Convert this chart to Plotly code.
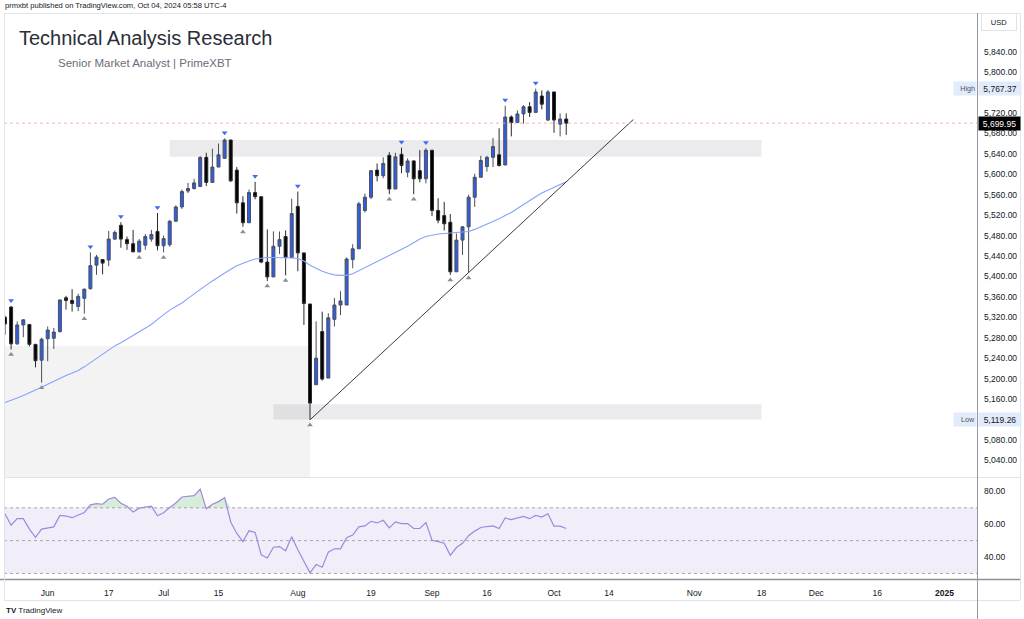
import numpy as np
import plotly.graph_objects as go

# ---------------- data ----------------
HOLIDAYS = ["2024-05-27", "2024-06-19", "2024-07-04", "2024-09-02",
            "2024-11-28", "2024-12-25", "2025-01-01"]
ORIGIN = "2024-05-22"

dates = [
    "2024-05-22", "2024-05-23", "2024-05-24", "2024-05-28", "2024-05-29", "2024-05-30", "2024-05-31",
    "2024-06-03", "2024-06-04", "2024-06-05", "2024-06-06", "2024-06-07", "2024-06-10", "2024-06-11",
    "2024-06-12", "2024-06-13", "2024-06-14", "2024-06-17", "2024-06-18", "2024-06-20", "2024-06-21",
    "2024-06-24", "2024-06-25", "2024-06-26", "2024-06-27", "2024-06-28",
    "2024-07-01", "2024-07-02", "2024-07-03", "2024-07-05", "2024-07-08", "2024-07-09", "2024-07-10",
    "2024-07-11", "2024-07-12", "2024-07-15", "2024-07-16", "2024-07-17", "2024-07-18", "2024-07-19",
    "2024-07-22", "2024-07-23", "2024-07-24", "2024-07-25", "2024-07-26", "2024-07-29", "2024-07-30",
    "2024-07-31",
    "2024-08-01", "2024-08-02", "2024-08-05", "2024-08-06", "2024-08-07", "2024-08-08", "2024-08-09",
    "2024-08-12", "2024-08-13", "2024-08-14", "2024-08-15", "2024-08-16", "2024-08-19", "2024-08-20",
    "2024-08-21", "2024-08-22", "2024-08-23", "2024-08-26", "2024-08-27", "2024-08-28", "2024-08-29",
    "2024-08-30",
    "2024-09-03", "2024-09-04", "2024-09-05", "2024-09-06", "2024-09-09", "2024-09-10", "2024-09-11",
    "2024-09-12", "2024-09-13", "2024-09-16", "2024-09-17", "2024-09-18", "2024-09-19", "2024-09-20",
    "2024-09-23", "2024-09-24", "2024-09-25", "2024-09-26", "2024-09-27", "2024-09-30",
    "2024-10-01", "2024-10-02", "2024-10-03",
]

open_ = [5320, 5340, 5268, 5305, 5306, 5267, 5236,
         5278, 5279, 5292, 5358, 5353, 5341, 5357, 5376, 5422, 5433, 5432, 5473, 5500, 5472,
         5464, 5448, 5461, 5473, 5488,
         5460, 5462, 5508, 5536, 5567, 5572, 5576, 5633, 5584, 5614, 5631, 5667, 5608, 5544,
         5505, 5564, 5556, 5428, 5399, 5459, 5478, 5437,
         5537, 5446, 5346, 5188, 5292, 5201, 5316, 5344, 5344, 5433, 5454, 5529, 5555, 5608,
         5597, 5637, 5571, 5639, 5604, 5626, 5607, 5591,
         5647, 5529, 5519, 5506, 5409, 5471, 5497, 5555, 5594, 5615, 5633, 5638, 5618, 5712,
         5701, 5718, 5732, 5721, 5753, 5706,
         5761, 5698, 5708]
high = [5323, 5342, 5312, 5316, 5306, 5268, 5280,
        5302, 5299, 5354, 5362, 5375, 5366, 5376, 5447, 5442, 5434, 5489, 5490, 5506, 5478,
        5491, 5473, 5483, 5491, 5524,
        5480, 5510, 5539, 5570, 5583, 5591, 5635, 5642, 5650, 5660, 5670, 5667, 5614, 5557,
        5570, 5585, 5556, 5492, 5488, 5488, 5490, 5552,
        5566, 5446, 5346, 5312, 5331, 5328, 5358, 5371, 5437, 5463, 5546, 5562, 5608, 5621,
        5633, 5643, 5642, 5652, 5631, 5627, 5647, 5651,
        5647, 5553, 5546, 5522, 5484, 5498, 5560, 5601, 5636, 5636, 5671, 5690, 5734, 5715,
        5725, 5735, 5741, 5767.37, 5764, 5765,
        5761, 5719, 5719]
low = [5286, 5257, 5266, 5281, 5263, 5222, 5192,
       5234, 5258, 5290, 5335, 5331, 5332, 5327, 5374, 5403, 5404, 5420, 5471, 5456, 5452,
       5448, 5447, 5452, 5468, 5451,
       5447, 5458, 5507, 5532, 5563, 5570, 5576, 5577, 5584, 5614, 5631, 5585, 5523, 5497,
       5505, 5551, 5426, 5391, 5399, 5444, 5402, 5437,
       5410, 5305, 5119.26, 5188, 5196, 5201, 5302, 5324, 5344, 5416, 5454, 5525, 5551, 5586,
       5592, 5561, 5571, 5602, 5594, 5561, 5584, 5582,
       5518, 5504, 5490, 5403, 5409, 5442, 5407, 5536, 5594, 5605, 5614, 5615, 5618, 5674,
       5701, 5699, 5712, 5721, 5727, 5704,
       5681, 5674, 5677]
close = [5307, 5268, 5305, 5315, 5267, 5235, 5277,
         5295, 5291, 5354, 5353, 5347, 5361, 5375, 5421, 5438, 5426, 5473, 5486, 5473, 5464,
         5448, 5469, 5478, 5482, 5460,
         5474, 5508, 5536, 5566, 5572, 5583, 5633, 5584, 5614, 5638, 5667, 5587, 5544, 5505,
         5564, 5556, 5428, 5399, 5459, 5472, 5437, 5523,
         5446, 5347, 5152, 5240, 5199, 5319, 5344, 5352, 5434, 5454, 5542, 5555, 5607, 5597,
         5621, 5571, 5634, 5617, 5626, 5591, 5591, 5647,
         5529, 5510, 5503, 5409, 5471, 5497, 5555, 5594, 5627, 5633, 5654, 5617, 5712, 5701,
         5718, 5732, 5721, 5761, 5737, 5761,
         5706, 5708, 5699.95]

ma = [5153, 5157, 5162, 5167, 5172, 5177, 5183,
      5189, 5195, 5200, 5206, 5211, 5216, 5223, 5231, 5240, 5248, 5256, 5264, 5270, 5277,
      5284, 5291, 5298, 5306, 5316,
      5325, 5334, 5341, 5348, 5357, 5366, 5375, 5383, 5391, 5399, 5407, 5414, 5421, 5426,
      5430, 5434, 5436, 5437, 5437, 5437, 5437, 5436,
      5435, 5430, 5422, 5416, 5410, 5406, 5403, 5402, 5402, 5405, 5411, 5417, 5423, 5429,
      5435, 5441, 5446, 5452, 5459, 5466, 5473, 5478,
      5481, 5483, 5484, 5485, 5486, 5487, 5488, 5492, 5497, 5502, 5507, 5513, 5519, 5525,
      5533, 5541, 5549, 5556, 5563, 5569,
      5575, 5580, 5585]

rsi = [66.4, 59.4, 63.4, 63.4, 57, 52, 57,
       57.8, 58.4, 65.4, 65, 64, 65.4, 67.2, 71.8, 72.6, 72.2, 75.4, 76.4, 72.8, 71,
       67.4, 69.8, 70.6, 71, 65.2,
       67, 70.2, 73, 76.6, 77, 77.4, 81.4, 69.4, 72.2, 73.8, 76.2, 61.4, 54.4, 49.4,
       56, 55, 41.4, 39.4, 46, 46.4, 43.8, 52.4,
       44.4, 37.4, 30.4, 35.4, 33.8, 43, 45, 45, 51.8, 53.4, 58.4, 59, 61.8, 60.8,
       62.4, 57.8, 61.4, 60.4, 60.4, 57.4, 57.4, 61,
       50.2, 49.4, 48.4, 41, 45.8, 48.4, 53, 55.8, 58, 58.6, 59, 57.4, 63.8, 62.8,
       63.8, 64.8, 63.4, 65.4, 64.4, 66.4,
       58.8, 58.8, 57.4]

pivot_high_dates = ["2024-05-23", "2024-06-12", "2024-06-20", "2024-06-28", "2024-07-16",
                    "2024-07-23", "2024-08-01", "2024-08-26", "2024-08-30", "2024-09-19",
                    "2024-09-26"]
pivot_low_dates = ["2024-05-23", "2024-05-31", "2024-06-11", "2024-06-25", "2024-07-01",
                   "2024-07-19", "2024-07-25", "2024-07-30", "2024-08-05", "2024-08-22",
                   "2024-08-28", "2024-09-06", "2024-09-11"]

# zones: start date, end date, low price, high price
zone_start = ["2024-07-02", "2024-07-26"]
zone_end = ["2024-11-18", "2024-11-18"]
zone_lo = [5634, 5120]
zone_hi = [5667, 5150]
left_zone_end = "2024-08-05"
left_zone_top = 5264

trend_dates = ["2024-08-05", "2024-10-18"]
trend_prices = [5119.26, 5707]

last_price = 5699.95
high_label = 5767.37
low_label = 5119.26

# price scale labels (those hidden behind the High/Low/USD boxes are left out)
price_ticks = [5040, 5080, 5160, 5200, 5240, 5280, 5320, 5360, 5400, 5440, 5480, 5520,
               5560, 5600, 5640, 5680, 5720, 5800, 5840]
rsi_ticks = [40, 60, 80]

tick_dates = ["2024-06-03", "2024-06-17", "2024-07-01", "2024-07-15", "2024-08-01",
              "2024-08-19", "2024-09-03", "2024-09-16", "2024-10-01", "2024-10-14",
              "2024-11-01", "2024-11-18", "2024-12-02", "2024-12-16", "2025-01-02"]
tick_labels = ["Jun", "17", "Jul", "15", "Aug", "19", "Sep", "16", "Oct", "14",
               "Nov", "18", "Dec", "16", "<b>2025</b>"]

PRICE_RANGE = [5007.4, 5915.5]
RSI_RANGE = [26.6, 88.2]
X_RANGE = [-0.164, 159.34]


def pos(d):
    return np.busday_count(ORIGIN, np.array(d, dtype="datetime64[D]"), holidays=HOLIDAYS)


x = pos(dates).astype(float)
high_a = np.array(high, dtype=float)
low_a = np.array(low, dtype=float)
date_index = {d: i for i, d in enumerate(dates)}
ph_i = [date_index[d] for d in pivot_high_dates]
pl_i = [date_index[d] for d in pivot_low_dates]

FONT = "Liberation Sans, Arial, sans-serif"
W, H = 1024, 619
ML, MR, MT, MB = 4, 47, 13, 40


def px(X):
    return (X - ML) / (W - ML - MR)


def py(Y):
    return (H - MB - Y) / (H - MT - MB)


fig = go.Figure()

# --- price pane ---
fig.add_trace(go.Scatter(x=x, y=ma, mode="lines", line=dict(color="#86a2fb", width=1.1),
                         hoverinfo="skip", showlegend=False, xaxis="x", yaxis="y"))
fig.add_trace(go.Candlestick(
    x=x, open=open_, high=high, low=low, close=close,
    increasing=dict(fillcolor="#2f5ee6", line=dict(color="#4b4f5c", width=1)),
    decreasing=dict(fillcolor="#000000", line=dict(color="#2a2a2a", width=1)),
    whiskerwidth=0, hoverinfo="skip", showlegend=False, xaxis="x", yaxis="y"))
fig.add_trace(go.Scatter(x=x[ph_i], y=high_a[ph_i] + 11, mode="markers",
                         marker=dict(symbol="triangle-down", size=5, color="#3d6af0"),
                         hoverinfo="skip", showlegend=False, xaxis="x", yaxis="y"))
fig.add_trace(go.Scatter(x=x[pl_i], y=low_a[pl_i] - 10, mode="markers",
                         marker=dict(symbol="triangle-up", size=5, color="#8a8d96"),
                         hoverinfo="skip", showlegend=False, xaxis="x", yaxis="y"))

# --- RSI pane ---
rsi_a = np.array(rsi, dtype=float)
fig.add_trace(go.Scatter(x=x, y=np.full(len(x), 70.0), mode="lines", line=dict(width=0),
                         hoverinfo="skip", showlegend=False, xaxis="x", yaxis="y2"))
fig.add_trace(go.Scatter(x=x, y=np.maximum(rsi_a, 70.0), mode="lines", line=dict(width=0),
                         fill="tonexty", fillcolor="rgba(76,175,80,0.22)",
                         hoverinfo="skip", showlegend=False, xaxis="x", yaxis="y2"))
fig.add_trace(go.Scatter(x=x, y=rsi_a, mode="lines", line=dict(color="#9c89de", width=1.2),
                         hoverinfo="skip", showlegend=False, xaxis="x", yaxis="y2"))

shapes = []
# zones
for s, e, lo, hi in zip(zone_start, zone_end, zone_lo, zone_hi):
    shapes.append(dict(type="rect", xref="x", yref="y", x0=float(pos(s)), x1=float(pos(e)),
                       y0=lo, y1=hi, fillcolor="rgba(120,123,134,0.15)", line=dict(width=0),
                       layer="below"))
shapes.append(dict(type="rect", xref="x", yref="y", x0=X_RANGE[0], x1=float(pos(left_zone_end)),
                   y0=PRICE_RANGE[0], y1=left_zone_top, fillcolor="rgba(120,123,134,0.09)",
                   line=dict(width=0), layer="below"))
# trend line
shapes.append(dict(type="line", xref="x", yref="y", x0=float(pos(trend_dates[0])),
                   x1=float(pos(trend_dates[1])), y0=trend_prices[0], y1=trend_prices[1],
                   line=dict(color="#3a3a3a", width=1)))
# last price line
shapes.append(dict(type="line", xref="x domain", yref="y", x0=0, x1=1, y0=last_price,
                   y1=last_price, line=dict(color="#f7b3b9", width=1, dash="dot")))
# RSI band and levels
shapes.append(dict(type="rect", xref="x domain", yref="y2", x0=0, x1=1, y0=30, y1=70,
                   fillcolor="rgba(126,87,194,0.10)", line=dict(width=0), layer="below"))
for lv in (70, 50, 30):
    shapes.append(dict(type="line", xref="x domain", yref="y2", x0=0, x1=1, y0=lv, y1=lv,
                       line=dict(color="#a3a6af", width=1, dash="dot"), layer="below"))


# frame lines (pixel based, paper coords)
def hline(Y, X0, X1, color, width=1):
    shapes.append(dict(type="line", xref="paper", yref="paper", x0=px(X0), x1=px(X1),
                       y0=py(Y), y1=py(Y), line=dict(color=color, width=width)))


def vline(X, Y0, Y1, color, width=1):
    shapes.append(dict(type="line", xref="paper", yref="paper", x0=px(X), x1=px(X),
                       y0=py(Y0), y1=py(Y1), line=dict(color=color, width=width)))


hline(13.5, 4, 1020, "#e0e3eb")
hline(477.5, 4, 1020, "#e0e3eb")
hline(579.5, 0, 1020, "#8c8f99", 1.5)
hline(600.5, 4, 1020, "#e0e3eb")
vline(4.5, 13, 600, "#e0e3eb")
vline(1020.5, 13, 600, "#e0e3eb")
vline(977.5, 13, 619, "#9598a1")

ann = []
ann.append(dict(text="prmxbt published on TradingView.com, Oct 04, 2024 05:58 UTC-4",
                xref="paper", yref="paper", x=px(3), y=py(6), xanchor="left", yanchor="middle",
                showarrow=False, font=dict(family=FONT, size=7.6, color="#131722")))
ann.append(dict(text="Technical Analysis Research", xref="paper", yref="paper", x=px(17),
                y=py(38), xanchor="left", yanchor="middle", showarrow=False,
                font=dict(family=FONT, size=20, color="#2a2e39")))
ann.append(dict(text="Senior Market Analyst | PrimeXBT", xref="paper", yref="paper", x=px(56),
                y=py(63), xanchor="left", yanchor="middle", showarrow=False,
                font=dict(family=FONT, size=11.5, color="#6a6d78")))
ann.append(dict(text="USD", xref="paper", yref="paper", x=px(999), y=py(22), xanchor="center",
                yanchor="middle", showarrow=False, bgcolor="#ffffff", bordercolor="#e0e3eb",
                borderwidth=1, borderpad=2, width=30, height=12,
                font=dict(family=FONT, size=7.5, color="#131722")))
for lbl, val in (("High", high_label), ("Low", low_label)):
    ann.append(dict(text=lbl, xref="paper", yref="y", x=px(977), y=val, xanchor="right",
                    yanchor="middle", showarrow=False, bgcolor="#e1ebfb", borderpad=1,
                    width=20, height=11, align="right",
                    font=dict(family=FONT, size=7.2, color="#50535e")))
    ann.append(dict(text=f"{val:,.2f}", xref="paper", yref="y", x=px(978), y=val,
                    xanchor="left", yanchor="middle", showarrow=False, bgcolor="#e1ebfb",
                    borderpad=1, width=40, height=11, align="center",
                    font=dict(family=FONT, size=8.5, color="#131722")))
ann.append(dict(text=f"{last_price:,.2f}", xref="paper", yref="y", x=px(978), y=last_price,
                xanchor="left", yanchor="middle", showarrow=False, bgcolor="#000000",
                borderpad=1, width=39, height=11, align="center",
                font=dict(family=FONT, size=8.5, color="#ffffff")))
ann.append(dict(text="<b>TV</b> TradingView", xref="paper", yref="paper", x=px(4), y=py(610),
                xanchor="left", yanchor="middle", showarrow=False,
                font=dict(family=FONT, size=8, color="#131722")))

fig.update_layout(
    width=W, height=H, margin=dict(l=ML, r=MR, t=MT, b=MB),
    paper_bgcolor="#ffffff", plot_bgcolor="#ffffff",
    showlegend=False, shapes=shapes, annotations=ann,
    font=dict(family=FONT, size=8.5, color="#131722"),
    xaxis=dict(domain=[0, 1], range=X_RANGE, anchor="y2", tickmode="array",
               tickvals=[float(v) for v in pos(tick_dates)], ticktext=tick_labels,
               showgrid=False, zeroline=False, showline=False, ticks="",
               ticklabelstandoff=7, tickfont=dict(family=FONT, size=8.5, color="#131722"),
               rangeslider=dict(visible=False), fixedrange=True),
    yaxis=dict(domain=[py(477), 1], range=PRICE_RANGE, side="right", anchor="x",
               tickmode="array", tickvals=price_ticks, tickformat=",.2f", showgrid=False,
               zeroline=False, showline=False, ticks="", ticklabelstandoff=6,
               tickfont=dict(family=FONT, size=8.5, color="#131722")),
    yaxis2=dict(domain=[0, py(478)], range=RSI_RANGE, side="right", anchor="x",
                tickmode="array", tickvals=rsi_ticks, tickformat=".2f", showgrid=False,
                zeroline=False, showline=False, ticks="", ticklabelstandoff=6,
                tickfont=dict(family=FONT, size=8.5, color="#131722")),
)

fig.write_html("out.html")
